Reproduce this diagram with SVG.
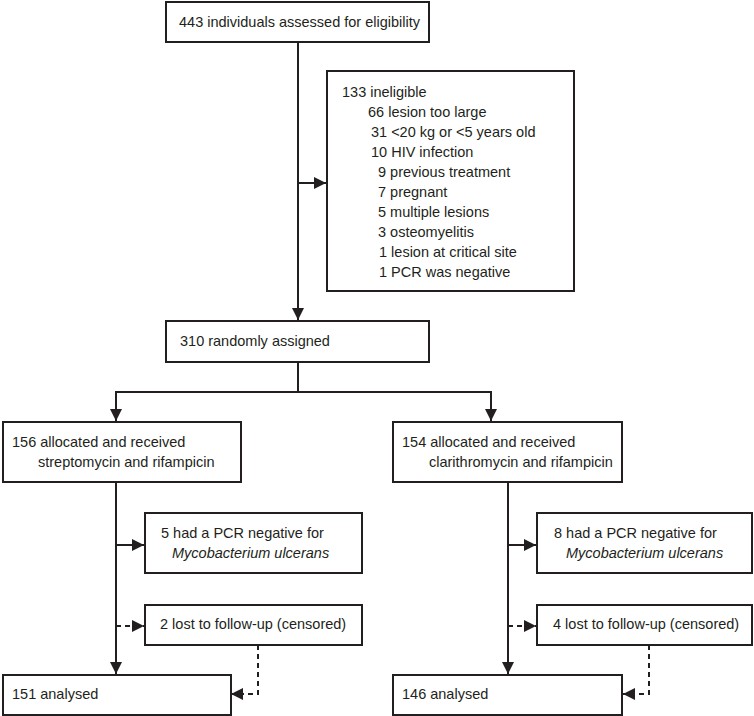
<svg xmlns="http://www.w3.org/2000/svg" width="754" height="716" viewBox="0 0 754 716">
<style>
.box{fill:#fff;stroke:#231f20;stroke-width:2}
.t{font-family:"Liberation Sans",Arial,sans-serif;font-size:14.5px;fill:#231f20}
.i{font-style:italic}
.c{fill:none;stroke:#231f20;stroke-width:2}
.d{fill:none;stroke:#231f20;stroke-width:2;stroke-dasharray:5 4}
</style>
<defs>
<marker id="ah" markerUnits="userSpaceOnUse" markerWidth="14" markerHeight="14" viewBox="0 0 14 14" refX="13" refY="7" orient="auto">
<path d="M1,1 L13,7 L1,13 Z" fill="#231f20"/>
</marker>
</defs>
<rect width="754" height="716" fill="#fff"/>
<g id="connectors">
<path class="c" d="M298,42 V320" marker-end="url(#ah)"/>
<path class="c" d="M298,183 H326" marker-end="url(#ah)"/>
<path class="c" d="M298,362 V392 H116 V421" marker-end="url(#ah)"/>
<path class="c" d="M298,392 H491 V421" marker-end="url(#ah)"/>
<path class="c" d="M116,482 V674" marker-end="url(#ah)"/>
<path class="c" d="M116,545 H144" marker-end="url(#ah)"/>
<path class="d" d="M116,626 H144" marker-end="url(#ah)"/>
<path class="d" d="M258,645 V694 H231" marker-end="url(#ah)"/>
<path class="c" d="M508,482 V674" marker-end="url(#ah)"/>
<path class="c" d="M508,545 H536" marker-end="url(#ah)"/>
<path class="d" d="M508,626 H536" marker-end="url(#ah)"/>
<path class="d" d="M649,645 V694 H623" marker-end="url(#ah)"/>
</g>
<g id="assessed">
<rect class="box" x="166" y="2" width="263" height="40"/>
<text class="t" x="179" y="27">443 individuals assessed for eligibility</text>
</g>
<g id="ineligible">
<rect class="box" x="327" y="71" width="247" height="220"/>
<text class="t" x="342" y="96.5">133 ineligible</text>
<text class="t" x="368" y="116.5">66 lesion too large</text>
<text class="t" x="371" y="136.5">31 &lt;20 kg or &lt;5 years old</text>
<text class="t" x="371" y="156.5">10 HIV infection</text>
<text class="t" x="378" y="176.5">9 previous treatment</text>
<text class="t" x="378" y="196.5">7 pregnant</text>
<text class="t" x="378" y="216.5">5 multiple lesions</text>
<text class="t" x="378" y="236.5">3 osteomyelitis</text>
<text class="t" x="379" y="256.5">1 lesion at critical site</text>
<text class="t" x="379" y="276.5">1 PCR was negative</text>
</g>
<g id="randomised">
<rect class="box" x="166" y="321" width="263" height="41"/>
<text class="t" x="180" y="346">310 randomly assigned</text>
</g>
<g id="strep">
<rect class="box" x="3" y="422" width="238" height="60"/>
<text class="t" x="12" y="446.5">156 allocated and received</text>
<text class="t" x="38" y="466.5">streptomycin and rifampicin</text>
</g>
<g id="clari">
<rect class="box" x="393" y="422" width="229" height="60"/>
<text class="t" x="402" y="446.5">154 allocated and received</text>
<text class="t" x="429" y="466.5">clarithromycin and rifampicin</text>
</g>
<g id="pcr-left">
<rect class="box" x="145" y="513" width="217" height="60"/>
<text class="t" x="161" y="538">5 had a PCR negative for</text>
<text class="t i" x="172" y="558">Mycobacterium ulcerans</text>
</g>
<g id="pcr-right">
<rect class="box" x="537" y="513" width="215" height="60"/>
<text class="t" x="554" y="538">8 had a PCR negative for</text>
<text class="t i" x="566" y="558">Mycobacterium ulcerans</text>
</g>
<g id="lost-left">
<rect class="box" x="145" y="605" width="217" height="40"/>
<text class="t" x="160" y="629">2 lost to follow-up (censored)</text>
</g>
<g id="lost-right">
<rect class="box" x="537" y="605" width="215" height="40"/>
<text class="t" x="553" y="629">4 lost to follow-up (censored)</text>
</g>
<g id="analysed-left">
<rect class="box" x="3" y="675" width="228" height="40"/>
<text class="t" x="12" y="699">151 analysed</text>
</g>
<g id="analysed-right">
<rect class="box" x="393" y="675" width="229" height="40"/>
<text class="t" x="402" y="699">146 analysed</text>
</g>
</svg>
